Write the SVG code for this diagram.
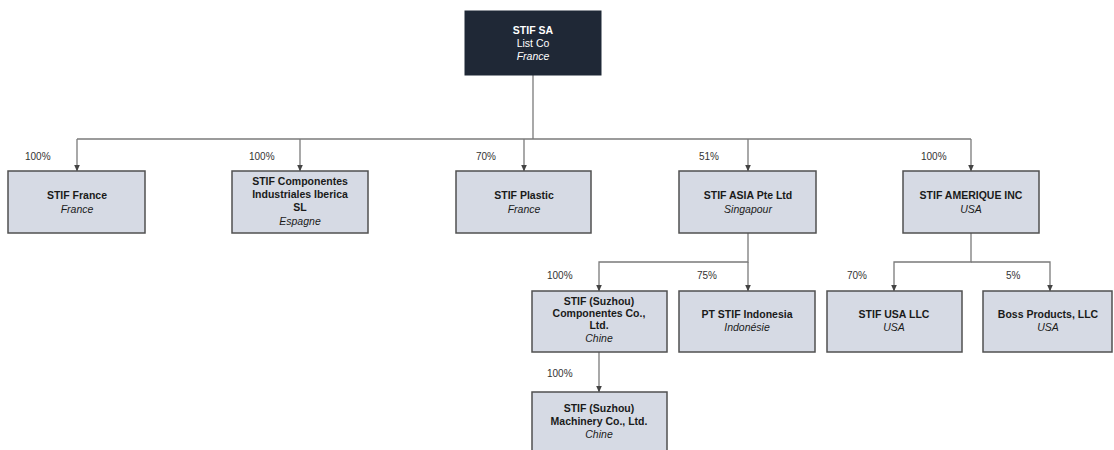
<svg xmlns="http://www.w3.org/2000/svg" width="1114" height="450" viewBox="0 0 1114 450">
<defs>
<marker id="arr" markerWidth="7" markerHeight="7" refX="6.5" refY="3.5" orient="auto" markerUnits="userSpaceOnUse" viewBox="0 0 7 7">
<path d="M0,0.5 L7,3.5 L0,6.5 Z" fill="#444"/>
</marker>
</defs>
<style>
.box{fill:#d6dae4;stroke:#505050;stroke-width:1.5}
.top{fill:#1f2836;stroke:#1f2836}
text{font-family:"Liberation Sans",Arial,sans-serif;font-size:10.5px;text-anchor:middle;fill:#1a1a1a}
.b{font-weight:bold}
.i{font-style:italic}
.w{fill:#ffffff}
.pct{text-anchor:start;font-size:10px;fill:#333}
.ln{fill:none;stroke:#7a7a7a;stroke-width:1.3}
</style>
<rect width="1114" height="450" fill="#ffffff"/>
<g id="connectors">
<path class="ln" d="M533,75 V139"/>
<path class="ln" d="M77,139 H971"/>
<path class="ln" d="M77,139 V171" marker-end="url(#arr)"/>
<path class="ln" d="M300,139 V171" marker-end="url(#arr)"/>
<path class="ln" d="M524,139 V171" marker-end="url(#arr)"/>
<path class="ln" d="M748,139 V171" marker-end="url(#arr)"/>
<path class="ln" d="M971,139 V171" marker-end="url(#arr)"/>
<path class="ln" d="M748,233 V262 H599 V291" marker-end="url(#arr)"/>
<path class="ln" d="M748,262 V291" marker-end="url(#arr)"/>
<path class="ln" d="M971,233 V262 H894 V291" marker-end="url(#arr)"/>
<path class="ln" d="M971,262 H1050 V291" marker-end="url(#arr)"/>
<path class="ln" d="M599,352 V392" marker-end="url(#arr)"/>
<text class="pct" x="25" y="160">100%</text>
<text class="pct" x="249" y="160">100%</text>
<text class="pct" x="476" y="160">70%</text>
<text class="pct" x="699" y="160">51%</text>
<text class="pct" x="921" y="160">100%</text>
<text class="pct" x="547" y="279">100%</text>
<text class="pct" x="697" y="279">75%</text>
<text class="pct" x="847" y="279">70%</text>
<text class="pct" x="1006" y="279">5%</text>
<text class="pct" x="547" y="377">100%</text>
</g>
<g id="stif-sa">
<rect class="top" x="465" y="11" width="136" height="64"/>
<text class="b w" x="533" y="34">STIF SA</text>
<text class="w" x="533" y="47">List Co</text>
<text class="i w" x="533" y="60">France</text>
</g>
<g id="stif-france">
<rect class="box" x="8" y="171" width="137" height="62"/>
<text class="b" x="77" y="199">STIF France</text>
<text class="i" x="77" y="213">France</text>
</g>
<g id="stif-componentes">
<rect class="box" x="232" y="171" width="136" height="62"/>
<text class="b" x="300" y="185">STIF Componentes</text>
<text class="b" x="300" y="198">Industriales Iberica</text>
<text class="b" x="300" y="211">SL</text>
<text class="i" x="300" y="225">Espagne</text>
</g>
<g id="stif-plastic">
<rect class="box" x="456" y="171" width="135" height="62"/>
<text class="b" x="524" y="199">STIF Plastic</text>
<text class="i" x="524" y="213">France</text>
</g>
<g id="stif-asia">
<rect class="box" x="679" y="171" width="137" height="62"/>
<text class="b" x="748" y="199">STIF ASIA Pte Ltd</text>
<text class="i" x="748" y="213">Singapour</text>
</g>
<g id="stif-amerique">
<rect class="box" x="903" y="171" width="136" height="62"/>
<text class="b" x="971" y="199">STIF AMERIQUE INC</text>
<text class="i" x="971" y="213">USA</text>
</g>
<g id="stif-suzhou-componentes">
<rect class="box" x="532" y="291" width="135" height="61"/>
<text class="b" x="599" y="305">STIF (Suzhou)</text>
<text class="b" x="599" y="317">Componentes Co.,</text>
<text class="b" x="599" y="329">Ltd.</text>
<text class="i" x="599" y="342">Chine</text>
</g>
<g id="pt-stif-indonesia">
<rect class="box" x="679" y="291" width="136" height="61"/>
<text class="b" x="747" y="318">PT STIF Indonesia</text>
<text class="i" x="747" y="331">Indonésie</text>
</g>
<g id="stif-usa-llc">
<rect class="box" x="827" y="291" width="135" height="61"/>
<text class="b" x="894" y="318">STIF USA LLC</text>
<text class="i" x="894" y="331">USA</text>
</g>
<g id="boss-products">
<rect class="box" x="983" y="291" width="129" height="61"/>
<text class="b" x="1048" y="318">Boss Products, LLC</text>
<text class="i" x="1048" y="331">USA</text>
</g>
<g id="stif-suzhou-machinery">
<rect class="box" x="532" y="392" width="135" height="70"/>
<text class="b" x="599" y="412">STIF (Suzhou)</text>
<text class="b" x="599" y="425">Machinery Co., Ltd.</text>
<text class="i" x="599" y="438">Chine</text>
</g>
</svg>
